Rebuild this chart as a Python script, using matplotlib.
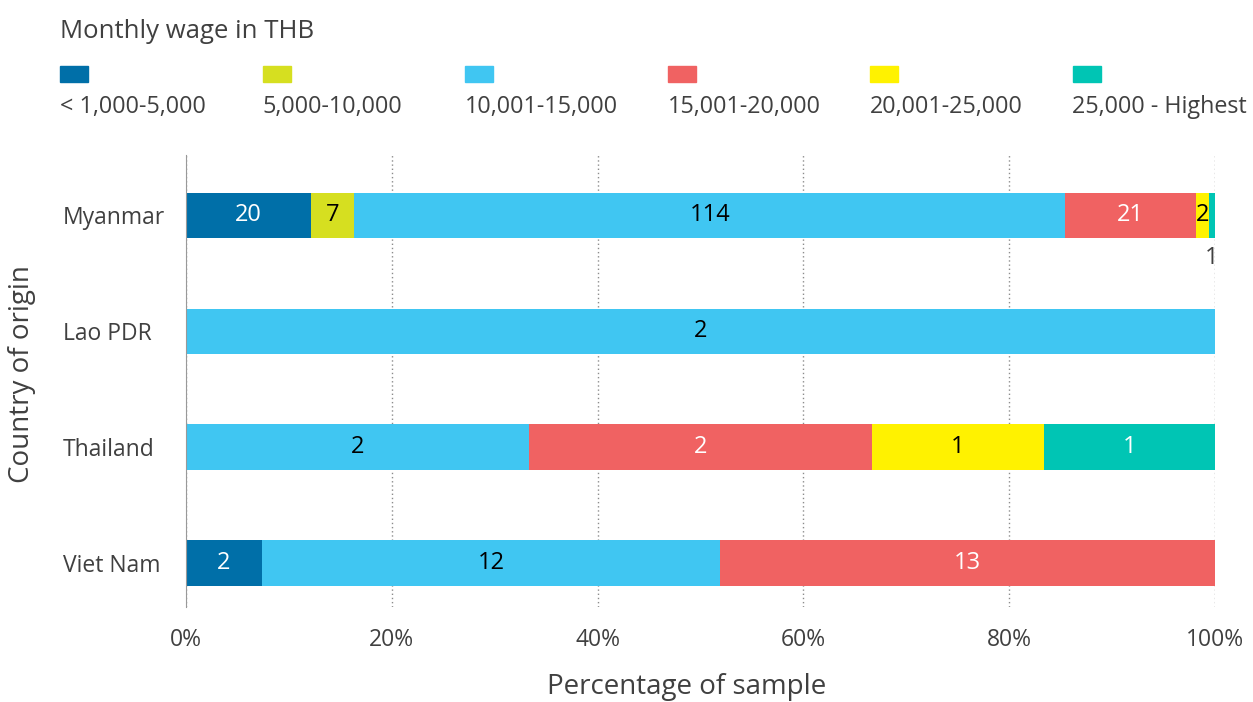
import matplotlib.pyplot as plt
from matplotlib.patches import Rectangle
from matplotlib.ticker import PercentFormatter

plt.rcParams['font.family'] = ['Open Sans', 'DejaVu Sans']

countries = ['Myanmar', 'Lao PDR', 'Thailand', 'Viet Nam']
wage_bands = ['< 1,000-5,000', '5,000-10,000', '10,001-15,000',
              '15,001-20,000', '20,001-25,000', '25,000 - Highest']
band_colors = ['#006fa8', '#d6df20', '#40c6f2', '#f06262', '#fff200', '#00c5b4']
label_colors = ['white', 'black', 'black', 'white', 'black', 'white']

# counts per wage band, one list per country
myanmar = [20, 7, 114, 21, 2, 1]
lao = [0, 0, 2, 0, 0, 0]
thailand = [0, 0, 2, 2, 1, 1]
vietnam = [2, 0, 12, 13, 0, 0]
counts = [myanmar, lao, thailand, vietnam]

text_gray = '#404040'

fig = plt.figure(figsize=(12.53, 7.02), dpi=100)
ax = fig.add_axes([0.1484, 0.1353, 0.8213, 0.6439])

ypos = [3, 2, 1, 0]
for row, y in zip(counts, ypos):
    total = sum(row)
    left = 0
    for i, n in enumerate(row):
        if n == 0:
            continue
        w = n / total * 100
        ax.barh(y, w, left=left, height=0.39, color=band_colors[i], zorder=2)
        cx = left + w / 2
        if w < 1:
            # segment too thin, put the label under the bar
            ax.text(cx, y - 0.37, str(n), ha='center', va='center',
                    fontsize=17, color=text_gray, zorder=3)
        else:
            ax.text(cx, y, str(n), ha='center', va='center',
                    fontsize=17, color=label_colors[i], zorder=3)
        left += w

ax.set_xlim(0, 100)
ax.set_ylim(-0.38, 3.52)
ax.set_yticks(ypos)
ax.set_yticklabels(countries, fontsize=16.5, color=text_gray, ha='left')
ax.set_xticks([0, 20, 40, 60, 80, 100])
ax.xaxis.set_major_formatter(PercentFormatter(decimals=0))
ax.tick_params(axis='x', labelsize=16.5, labelcolor=text_gray, length=0, pad=15)
ax.tick_params(axis='y', length=0, pad=88.5)

ax.grid(axis='x', linestyle=(0, (1, 2)), color='#8c8c8c', linewidth=1, zorder=0)
for s in ['top', 'right', 'bottom']:
    ax.spines[s].set_visible(False)
ax.spines['left'].set_color('#999999')

ax.set_xlabel('Percentage of sample', fontsize=20, color=text_gray)
ax.xaxis.set_label_coords(0.487, -0.146)
ax.set_ylabel('Country of origin', fontsize=20, color=text_gray)
ax.yaxis.set_label_coords(-0.146, 0.515)

# legend drawn as swatches with labels underneath
fig.text(60 / 1253, 1 - 31 / 702, 'Monthly wage in THB', fontsize=18.5,
         color=text_gray, va='center')
for i, (band, c) in enumerate(zip(wage_bands, band_colors)):
    x0 = (60 + i * 202.5) / 1253
    fig.add_artist(Rectangle((x0, 1 - 82 / 702), 28 / 1253, 16 / 702,
                             transform=fig.transFigure, color=c))
    fig.text(x0, 1 - 107 / 702, band, fontsize=16.8, color=text_gray, va='center')

fig.savefig('out.png', dpi=100)
